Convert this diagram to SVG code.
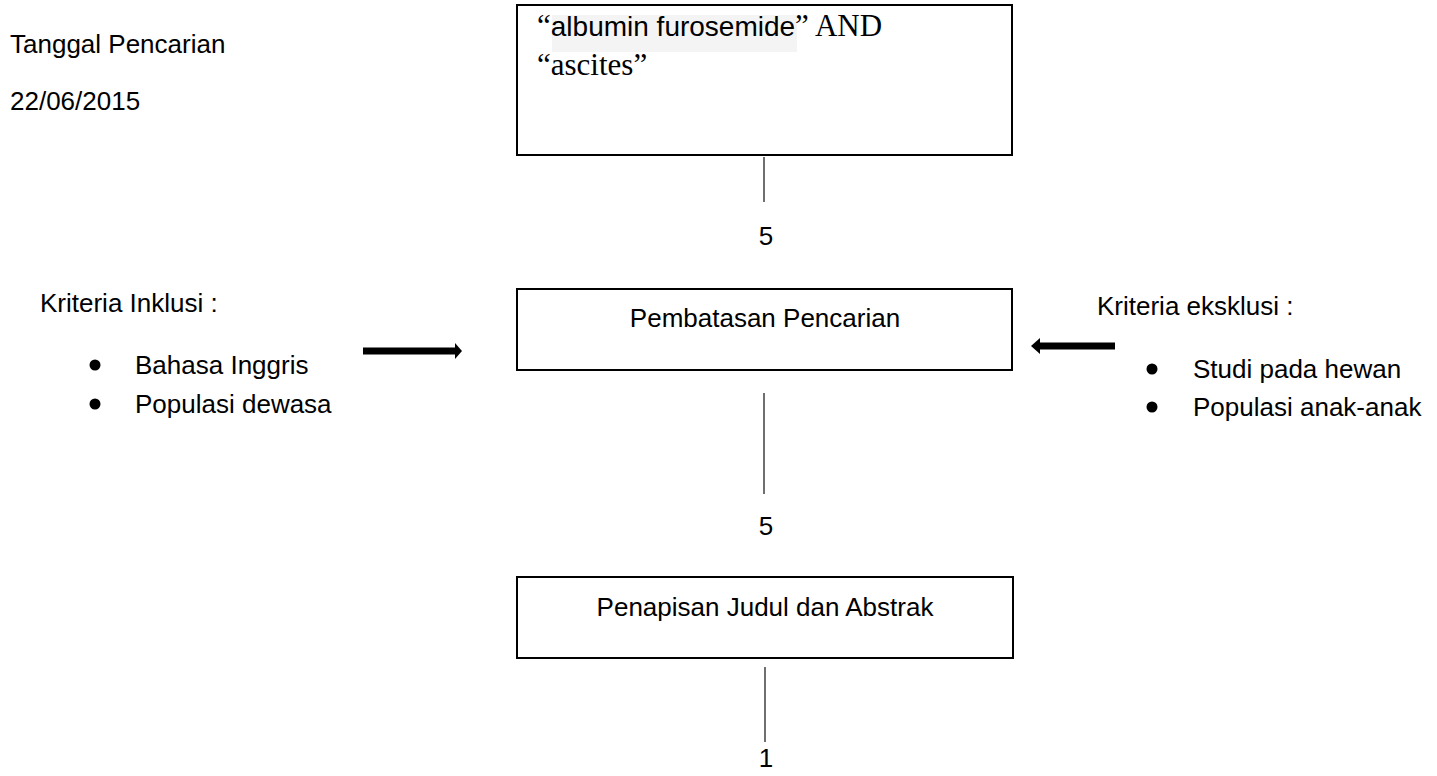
<svg xmlns="http://www.w3.org/2000/svg" width="1437" height="776" viewBox="0 0 1437 776">
<style>
.t{font-family:"Liberation Sans",Arial,sans-serif;font-size:26px;fill:#000}
.box{fill:#fff;stroke:#000;stroke-width:2}
.ln{stroke:#222;stroke-width:1.3;fill:none}
.ar{fill:#000}
.tm{font-family:"Liberation Serif","Times New Roman",serif;font-size:31px;fill:#000}
.ai{font-family:"Liberation Sans",Arial,sans-serif;font-size:28px;fill:#000}
</style>
<rect width="1437" height="776" fill="#fff"/>
<g id="tanggal">
<text class="t" x="10" y="53">Tanggal Pencarian</text>
<text class="t" x="10" y="110">22/06/2015</text>
</g>
<g id="query">
<rect class="box" x="517" y="5" width="495" height="150"/>
<rect x="552" y="15" width="245" height="37" fill="#f4f4f4"/>
<text x="537" y="36"><tspan class="tm">“</tspan><tspan class="ai">albumin furosemide</tspan><tspan class="tm">” AND</tspan></text>
<text class="tm" x="537" y="75">“ascites”</text>
</g>
<g id="pembatasan">
<rect class="box" x="517" y="289" width="495" height="81"/>
<text class="t" x="765" y="327" text-anchor="middle">Pembatasan Pencarian</text>
</g>
<g id="penapisan">
<rect class="box" x="517" y="577" width="496" height="81"/>
<text class="t" x="765" y="616" text-anchor="middle">Penapisan Judul dan Abstrak</text>
</g>
<g id="inklusi">
<text class="t" x="40" y="312">Kriteria Inklusi :</text>
<circle cx="95" cy="365" r="5.5"/>
<text class="t" x="135" y="374">Bahasa Inggris</text>
<circle cx="95" cy="404" r="5.5"/>
<text class="t" x="135" y="413">Populasi dewasa</text>
</g>
<g id="eksklusi">
<text class="t" x="1097" y="315">Kriteria eksklusi :</text>
<circle cx="1152" cy="369" r="5.5"/>
<text class="t" x="1193" y="378">Studi pada hewan</text>
<circle cx="1152" cy="407" r="5.5"/>
<text class="t" x="1193" y="416">Populasi anak-anak</text>
</g>
<g id="connectors">
<line class="ln" x1="764" y1="157" x2="764" y2="202"/>
<text class="t" x="766" y="245" text-anchor="middle">5</text>
<line class="ln" x1="764" y1="393" x2="764" y2="494"/>
<text class="t" x="766" y="535" text-anchor="middle">5</text>
<line class="ln" x1="765" y1="667" x2="765" y2="742"/>
<text class="t" x="766" y="767" text-anchor="middle">1</text>
<path class="ar" d="M363,347.5 H455 V343 L462,351 L455,359 V354.5 H363 Z"/>
<path class="ar" d="M1115,342.5 H1040 V338 L1031,346 L1040,354 V349.5 H1115 Z"/>
</g>
</svg>
